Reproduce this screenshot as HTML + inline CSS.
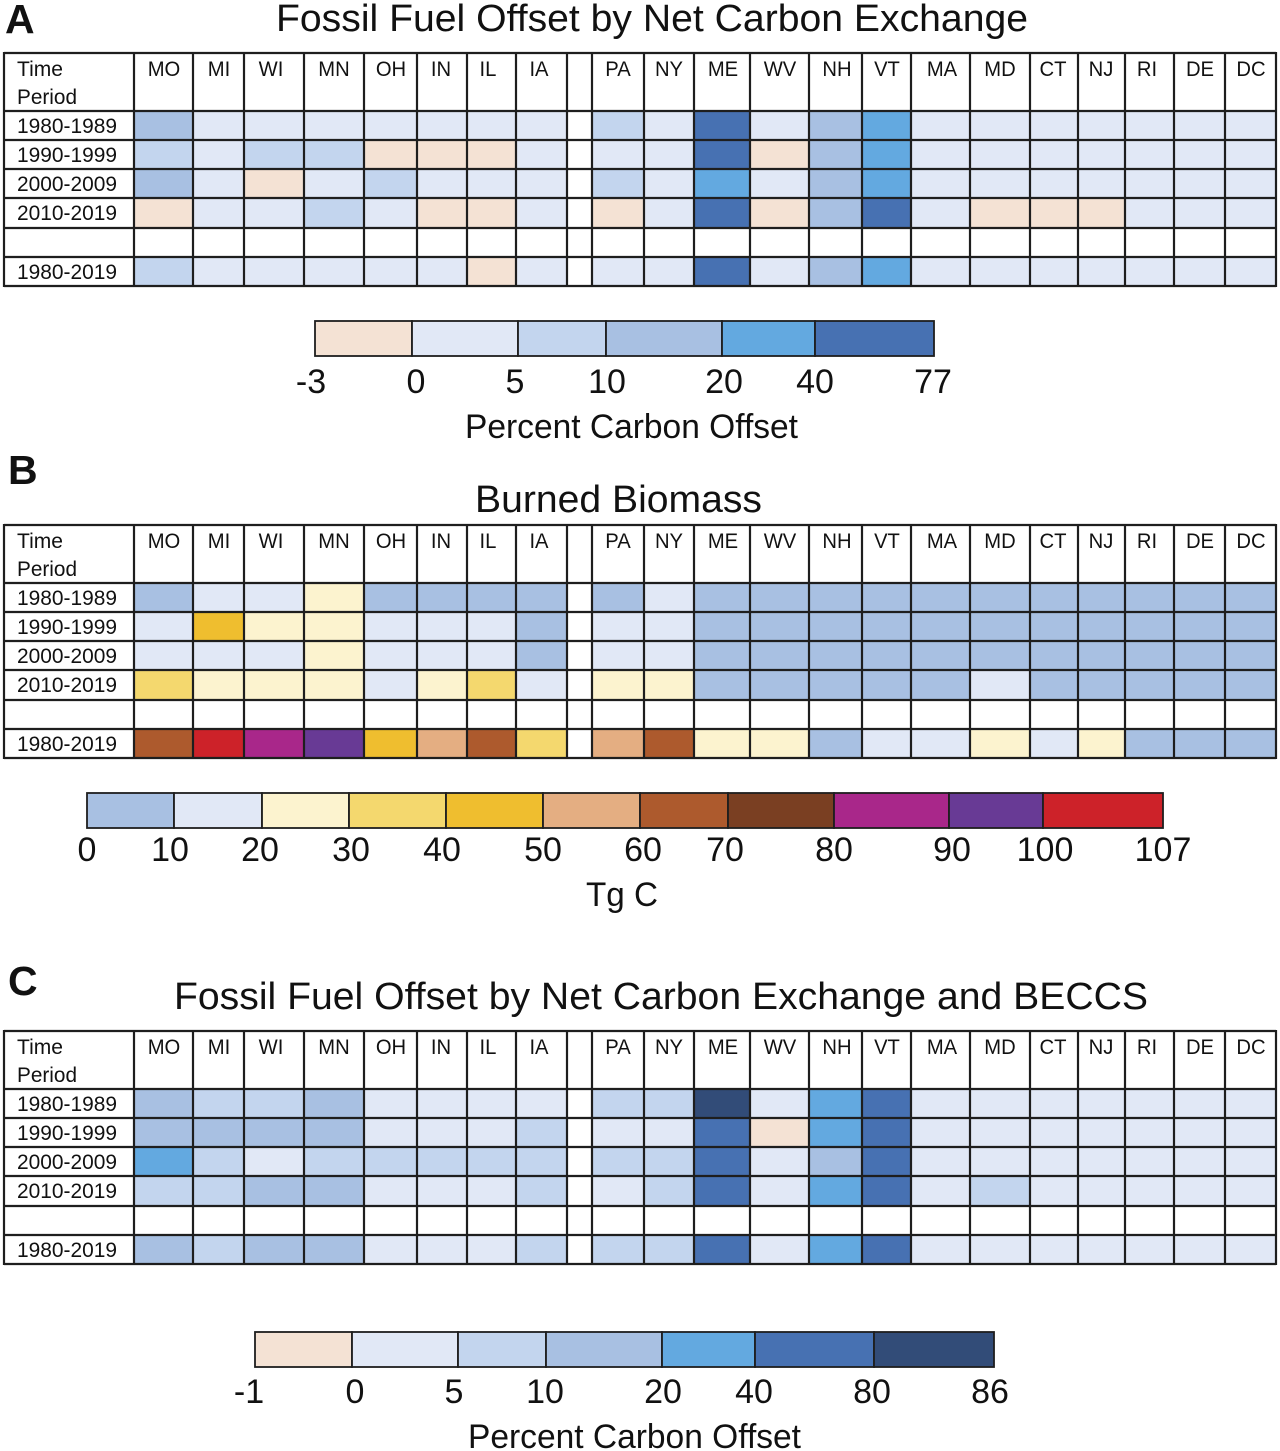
<!DOCTYPE html>
<html lang="en">
<head>
<meta charset="utf-8">
<title>Fossil Fuel Offset and Burned Biomass Heatmaps</title>
<style>
html,body{margin:0;padding:0;background:#fff;}
svg{display:block;}
text{font-family:"Liberation Sans",Arial,sans-serif;fill:#111;}
</style>
</head>
<body>
<svg id="chart" xmlns="http://www.w3.org/2000/svg" width="1280" height="1451" viewBox="0 0 1280 1451"></svg>
<script>
// ---------- categories ----------
const states = ['MO','MI','WI','MN','OH','IN','IL','IA','','PA','NY','ME','WV','NH','VT','MA','MD','CT','NJ','RI','DE','DC'];
const periods = ['1980-1989','1990-1999','2000-2009','2010-2019','','1980-2019'];
const blankRow = [null,null,null,null,null,null,null,null,null,null,null,null,null,null,null,null,null,null,null,null,null,null];

// ---------- panel A: percent carbon offset ----------
const offsetA1980s = [15,2,2,2,2,2,2,2,null,7,2,55,2,15,30,2,2,2,2,2,2,2];
const offsetA1990s = [7,2,7,7,-1,-1,-1,2,null,2,2,55,-1,15,30,2,2,2,2,2,2,2];
const offsetA2000s = [15,2,-1,2,7,2,2,2,null,7,2,30,2,15,30,2,2,2,2,2,2,2];
const offsetA2010s = [-1,2,2,7,2,-1,-1,2,null,-1,2,55,-1,15,55,2,-1,-1,-1,2,2,2];
const offsetAAll = [7,2,2,2,2,2,-1,2,null,2,2,55,2,15,30,2,2,2,2,2,2,2];
const breaksA = [-3,0,5,10,20,40,77];
const ticksA = ['-3','0','5','10','20','40','77'];

// ---------- panel B: burned biomass, Tg C ----------
const biomass1980s = [5,15,15,25,5,5,5,5,null,5,15,5,5,5,5,5,5,5,5,5,5,5];
const biomass1990s = [15,45,25,25,15,15,15,5,null,15,15,5,5,5,5,5,5,5,5,5,5,5];
const biomass2000s = [15,15,15,25,15,15,15,5,null,15,15,5,5,5,5,5,5,5,5,5,5,5];
const biomass2010s = [35,25,25,25,15,25,35,15,null,25,25,5,5,5,5,5,15,5,5,5,5,5];
const biomassAll = [65,105,85,95,45,55,65,35,null,55,65,25,25,5,15,15,25,15,25,5,5,5];
const breaksB = [0,10,20,30,40,50,60,70,80,90,100,107];
const ticksB = ['0','10','20','30','40','50','60','70','80','90','100','107'];

// ---------- panel C: percent carbon offset with BECCS ----------
const offsetC1980s = [15,7,7,15,2,2,2,2,null,7,7,83,2,30,60,2,2,2,2,2,2,2];
const offsetC1990s = [15,15,15,15,2,2,2,7,null,2,2,60,-0.5,30,60,2,2,2,2,2,2,2];
const offsetC2000s = [30,7,2,7,7,7,7,7,null,7,7,60,2,15,60,2,2,2,2,2,2,2];
const offsetC2010s = [7,7,15,15,2,2,2,7,null,2,7,60,2,30,60,2,7,2,2,2,2,2];
const offsetCAll = [15,7,15,15,2,2,2,7,null,7,7,60,2,30,60,2,2,2,2,2,2,2];
const breaksC = [-1,0,5,10,20,40,80,86];
const ticksC = ['-1','0','5','10','20','40','80','86'];

// ---------- colour ramps ----------
const rampOffset = ['#f4e2d4','#e1e8f6','#c3d5ee','#a8c0e2','#63a9e0','#4771b2','#324c78'];
const rampBiomass = ['#a8c0e2','#e1e8f6','#fcf3cf','#f4d86e','#efbe2f','#e4ae82','#ad5a2d','#7a3f22','#a9278a','#683a95','#cd2229'];

// ---------- layout (not data) ----------
const gridEdges = [4,134,193,244,304,364,417,467,516,567,592,644,694,750,809,862,911,970,1030,1078,1125,1174,1225,1276];
const rowOffsets = [0,58,87,116,145,175,204,233];
const labelBaselines = [80,109,138,167,196,226];
const headerCenters = [164,219,271,334,391,441,488,539,0,618,669,723,780,837,887,942,1000,1053,1101,1147,1200,1251];

const panels = [
  {id:'a',letter:'A',letterX:5,letterY:33,title:'Fossil Fuel Offset by Net Carbon Exchange',titleX:276,titleW:752,titleY:31,gridTop:53,
   rows:[offsetA1980s,offsetA1990s,offsetA2000s,offsetA2010s,blankRow,offsetAAll],breaks:breaksA,ramp:rampOffset,ticks:ticksA,
   barTop:321,barEdges:[315,412,518,606,722,815,934],tickX:[311,416,515,607,724,815,933],tickY:393,
   unit:'Percent Carbon Offset',unitX:465,unitW:333,unitY:438},
  {id:'b',letter:'B',letterX:8,letterY:484,title:'Burned Biomass',titleX:475,titleW:287,titleY:512,gridTop:525,
   rows:[biomass1980s,biomass1990s,biomass2000s,biomass2010s,blankRow,biomassAll],breaks:breaksB,ramp:rampBiomass,ticks:ticksB,
   barTop:793,barEdges:[87,174,262,349,446,543,640,728,834,949,1043,1163],tickX:[87,170,260,351,442,543,643,725,834,952,1045,1163],tickY:861,
   unit:'Tg C',unitX:586,unitW:72,unitY:906},
  {id:'c',letter:'C',letterX:8,letterY:995,title:'Fossil Fuel Offset by Net Carbon Exchange and BECCS',titleX:174,titleW:974,titleY:1009,gridTop:1031,
   rows:[offsetC1980s,offsetC1990s,offsetC2000s,offsetC2010s,blankRow,offsetCAll],breaks:breaksC,ramp:rampOffset,ticks:ticksC,
   barTop:1332,barEdges:[255,352,458,546,662,755,874,994],tickX:[249,355,454,545,663,754,872,990],tickY:1403,
   unit:'Percent Carbon Offset',unitX:468,unitW:333,unitY:1448}
];

const svg = document.getElementById('chart');
const NS = 'http://www.w3.org/2000/svg';

function make(tag, attrs, parent){
  const el = document.createElementNS(NS, tag);
  for (const k in attrs) el.setAttribute(k, attrs[k]);
  (parent || svg).appendChild(el);
  return el;
}
function label(str, attrs, parent){
  const el = make('text', attrs, parent);
  el.textContent = str;
  return el;
}
// colour scale: finds the bin a value falls in
function binColor(value, breaks, ramp){
  for (let i = 0; i < breaks.length - 1; i++){
    if (value < breaks[i + 1]) return ramp[i];
  }
  return ramp[breaks.length - 2];
}
// band scales
function colLeft(i){ return gridEdges[i + 1]; }
function colRight(i){ return gridEdges[i + 2]; }
function rowTop(p, i){ return p.gridTop + rowOffsets[i + 1]; }
function rowBottom(p, i){ return p.gridTop + rowOffsets[i + 2]; }

panels.forEach(function(p){
  const g = make('g', {});
  
  

  const letterEl = label(p.letter, {x:p.letterX, y:p.letterY, 'font-size':41, 'font-weight':'bold'}, g);
  
  

  const titleEl = label(p.title, {x:p.titleX, y:p.titleY, 'font-size':38, textLength:p.titleW, lengthAdjust:'spacingAndGlyphs'}, g);
  
  

  // heatmap cells
  p.rows.forEach(function(row, r){
    row.forEach(function(value, c){
      if (value === null) return;
      const cell = make('rect', {
        x: colLeft(c), y: rowTop(p, r),
        width: colRight(c) - colLeft(c),
        height: rowBottom(p, r) - rowTop(p, r),
        fill: binColor(value, p.breaks, p.ramp)
      }, g);
      
      
    });
  });

  // grid lines
  const grid = make('g', {stroke:'#1e1e1e', 'stroke-width':2.2, fill:'none'}, g);
  
  
  const top = p.gridTop, bottom = p.gridTop + rowOffsets[rowOffsets.length - 1];
  gridEdges.forEach(function(x){
    make('line', {x1:x, x2:x, y1:top - 1, y2:bottom + 1}, grid);
  });
  rowOffsets.forEach(function(dy){
    make('line', {x1:gridEdges[0], x2:gridEdges[gridEdges.length - 1], y1:top + dy, y2:top + dy}, grid);
  });

  // header text
  const timeEl = label('Time', {x:17, y:top + 23, 'font-size':21, textLength:46, lengthAdjust:'spacingAndGlyphs'}, g);
  
  
  const periodEl = label('Period', {x:17, y:top + 51, 'font-size':21, textLength:60, lengthAdjust:'spacingAndGlyphs'}, g);
  
  

  states.forEach(function(s, c){
    if (!s) return;
    const el = label(s, {x:headerCenters[c], y:top + 23, 'font-size':21.5, 'text-anchor':'middle', lengthAdjust:'spacingAndGlyphs'}, g);
    el.setAttribute('textLength', (el.getComputedTextLength() * 0.94).toFixed(1));
    
    
  });

  periods.forEach(function(t, r){
    if (!t) return;
    const el = label(t, {x:17, y:top + labelBaselines[r], 'font-size':21, textLength:100, lengthAdjust:'spacingAndGlyphs'}, g);
    
    
  });

  // colour legend
  const legend = make('g', {}, g);
  
  
  for (let i = 0; i < p.barEdges.length - 1; i++){
    const band = make('rect', {
      x: p.barEdges[i], y: p.barTop,
      width: p.barEdges[i + 1] - p.barEdges[i], height: 35,
      fill: p.ramp[i], stroke:'#1e1e1e', 'stroke-width':1.8
    }, legend);
    
    
  }
  p.ticks.forEach(function(t, i){
    const el = label(t, {x:p.tickX[i], y:p.tickY, 'font-size':34, 'text-anchor':'middle'}, legend);
    
    
  });
  const unitEl = label(p.unit, {x:p.unitX, y:p.unitY, 'font-size':34, textLength:p.unitW, lengthAdjust:'spacingAndGlyphs'}, legend);
  
  
});
</script>
</body>
</html>
